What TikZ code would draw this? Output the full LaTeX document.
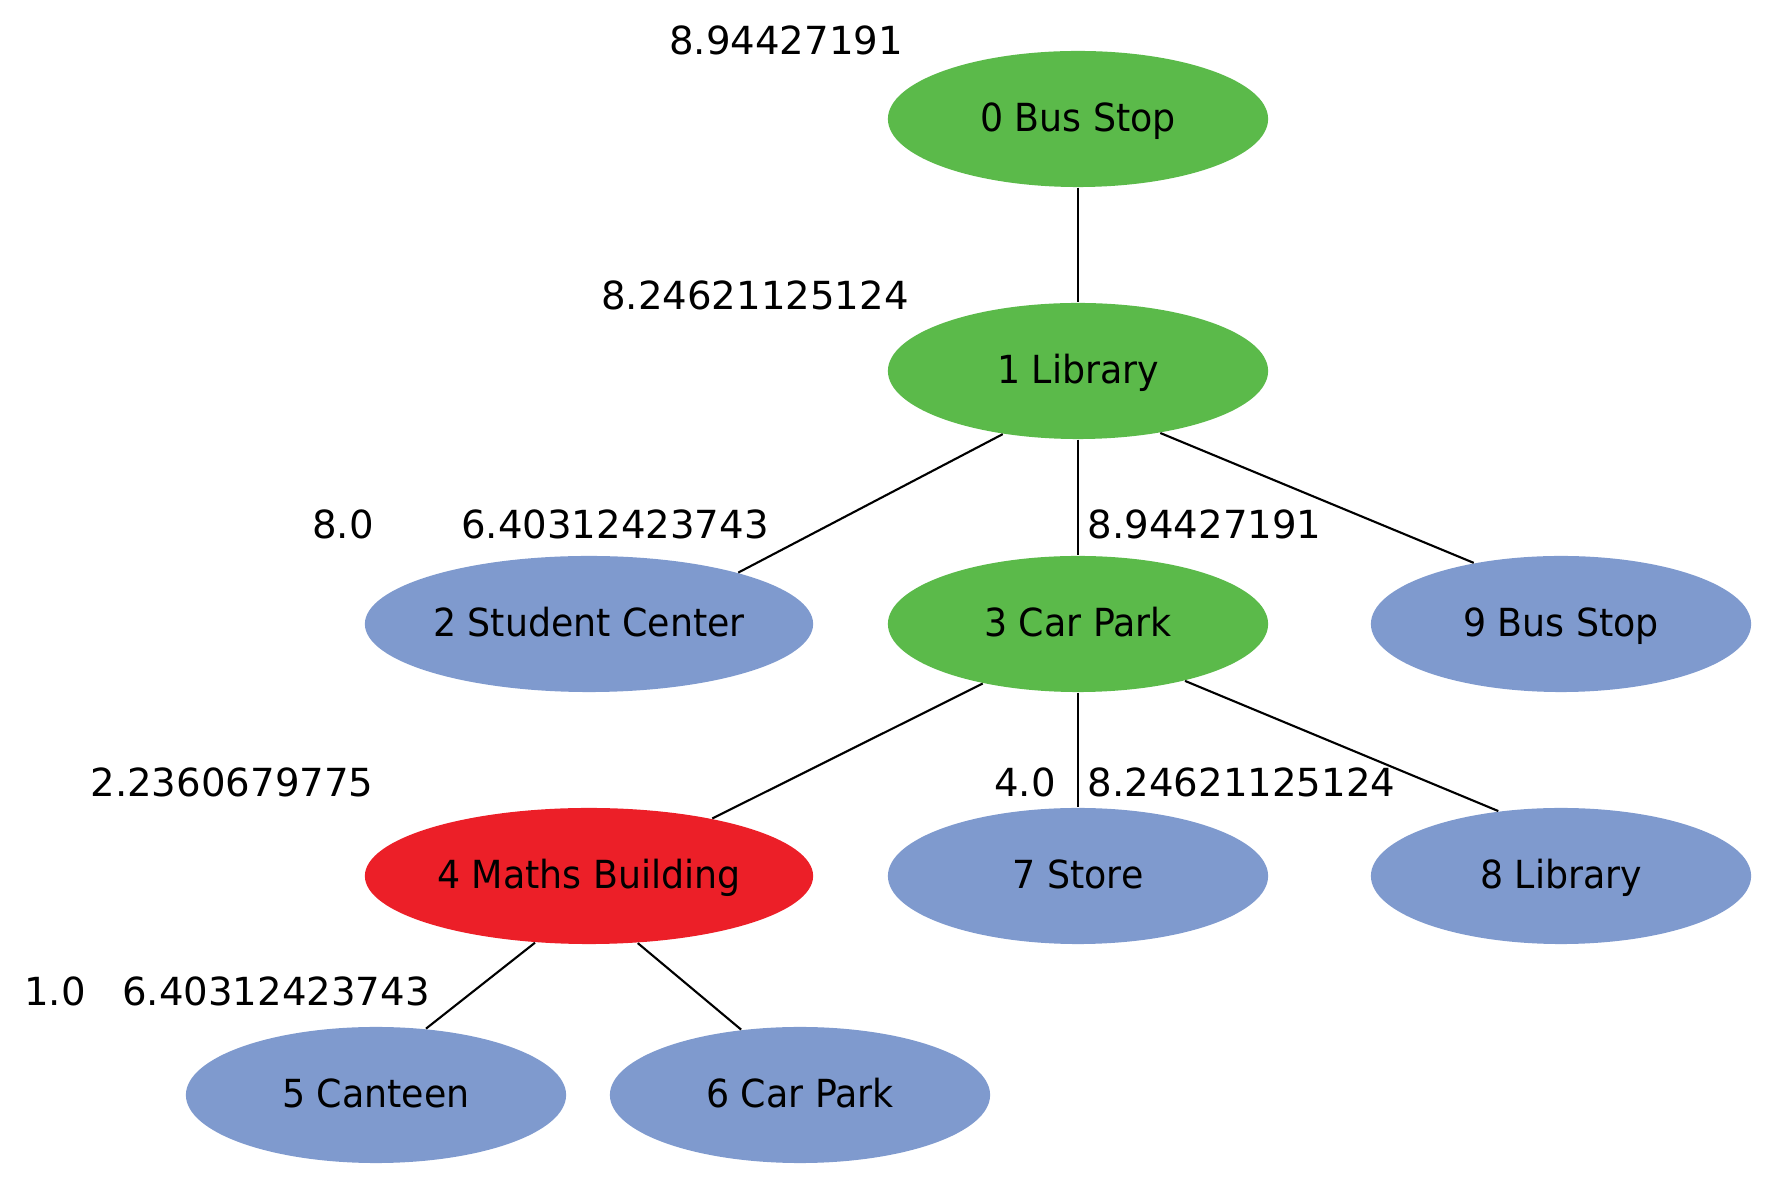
\documentclass[tikz,border=0pt]{standalone}
\usepackage{fontspec}
\setmainfont{DejaVu Sans}
\newfontfamily\vfont[FakeStretch=0.94]{DejaVu Sans}
\usetikzlibrary{shapes.geometric}
\definecolor{gfill}{RGB}{91,186,74}
\definecolor{bfill}{RGB}{127,154,206}
\definecolor{rfill}{RGB}{236,31,40}
\newcommand{\vlab}[1]{\makebox[0pt][c]{#1}}
\tikzset{
  vtx/.style={ellipse, draw=none, inner sep=0pt, minimum width=3.8cm, minimum height=1.36cm,
    font=\vfont\fontsize{11}{13}\selectfont, text height=0.73em, text depth=0pt},
  wide/.style={minimum width=4.48cm},
  gv/.style={vtx, fill=gfill},
  bv/.style={vtx, fill=bfill},
  rv/.style={vtx, fill=rfill},
  num/.style={inner sep=0pt, font=\fontsize{11}{13}\selectfont, text height=0.73em, text depth=0pt},
  edge/.style={draw=black, line width=0.6pt}
}
\begin{document}
\begin{tikzpicture}[x=0.01cm, y=-0.01cm]
\useasboundingbox (0,0) rectangle (1772,1186);
\node[gv] (n0) at (1078,119) {\vlab{0 Bus Stop}};
\node[gv] (n1) at (1078,371) {\vlab{1 Library}};
\node[bv, wide] (n2) at (589,624) {\vlab{2 Student Center}};
\node[gv] (n3) at (1078,624) {\vlab{3 Car Park}};
\node[bv] (n9) at (1561,624) {\vlab{9 Bus Stop}};
\node[rv, wide] (n4) at (589,876) {\vlab{4 Maths Building}};
\node[bv] (n7) at (1078,876) {\vlab{7 Store}};
\node[bv] (n8) at (1561,876) {\vlab{8 Library}};
\node[bv] (n5) at (376,1095) {\vlab{5 Canteen}};
\node[bv] (n6) at (800,1095) {\vlab{6 Car Park}};

\draw[edge] (n0.south) -- (n1.north);
\draw[edge] (n1.220.7) -- (n2.19.8);
\draw[edge] (n1.south) -- (n3.north);
\draw[edge] (n1.-37.1) -- (n9.145);
\draw[edge] (n3.212.4) -- (n4.25.7);
\draw[edge] (n3.south) -- (n7.north);
\draw[edge] (n3.-28.3) -- (n8.134);
\draw[edge] (n4.231.6) -- (n5.53);
\draw[edge] (n4.-54.7) -- (n6.132);

\node[num] (l0) at (786,42) {8.94427191};
\node[num] (l1) at (755,297) {8.24621125124};
\node[num] (l2a) at (343,526) {8.0};
\node[num] (l2b) at (615,526) {6.40312423743};
\node[num, anchor=west] (l3) at (1087,526) {8.94427191};
\node[num] (l4) at (232,784) {2.2360679775};
\node[num] (l7) at (1025,784) {4.0};
\node[num, anchor=west] (l8) at (1087,784) {8.24621125124};
\node[num] (l5a) at (55,993) {1.0};
\node[num] (l5b) at (276,993) {6.40312423743};
\end{tikzpicture}
\end{document}
